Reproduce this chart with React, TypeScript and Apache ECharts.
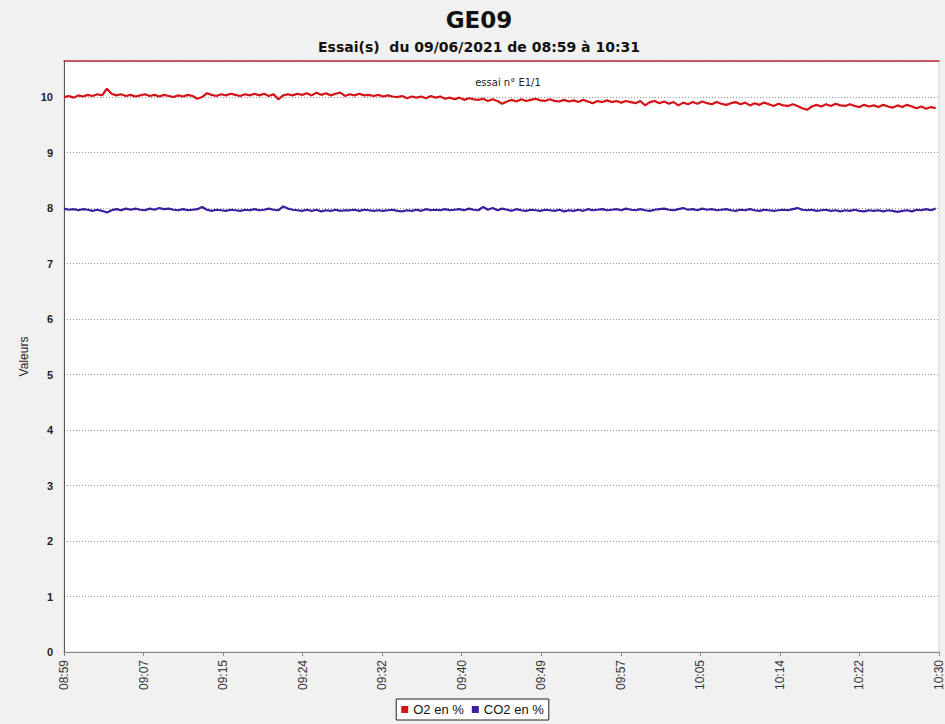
import React, { useEffect, useRef } from "react";
import * as echarts from "echarts";

const xTickLabels = ["08:59", "09:07", "09:15", "09:24", "09:32", "09:40", "09:49", "09:57", "10:05", "10:14", "10:22", "10:30"];
const tickStepMin = 8.35; // minutes between labelled ticks
const sampleStepMin = 0.5; // minutes between samples

const o2Values = [
  10.00, 10.02, 9.99, 10.03, 10.01, 10.04, 10.02, 10.05, 10.03, 10.15,
  10.06, 10.03, 10.05, 10.02, 10.04, 10.01, 10.03, 10.05, 10.02, 10.04,
  10.01, 10.04, 10.02, 10.00, 10.03, 10.01, 10.04, 10.02, 9.97, 10.00,
  10.07, 10.04, 10.02, 10.05, 10.03, 10.06, 10.04, 10.02, 10.05, 10.03,
  10.06, 10.03, 10.06, 10.02, 10.05, 9.96, 10.03, 10.05, 10.03, 10.06,
  10.04, 10.07, 10.03, 10.08, 10.04, 10.07, 10.03, 10.06, 10.08, 10.02,
  10.05, 10.03, 10.06, 10.03, 10.04, 10.02, 10.04, 10.01, 10.03, 10.01,
  10.00, 10.02, 9.98, 10.01, 9.99, 10.01, 9.98, 10.02, 9.99, 10.01,
  9.97, 9.99, 9.96, 9.99, 9.95, 9.98, 9.96, 9.95, 9.97, 9.93,
  9.96, 9.93, 9.88, 9.92, 9.95, 9.92, 9.96, 9.93, 9.95, 9.97,
  9.94, 9.93, 9.96, 9.93, 9.92, 9.95, 9.92, 9.94, 9.91, 9.95,
  9.92, 9.89, 9.93, 9.91, 9.94, 9.91, 9.93, 9.90, 9.93, 9.91,
  9.89, 9.93, 9.85, 9.91, 9.93, 9.89, 9.92, 9.88, 9.91, 9.85,
  9.90, 9.87, 9.91, 9.88, 9.92, 9.89, 9.87, 9.91, 9.88, 9.86,
  9.89, 9.91, 9.87, 9.90, 9.85, 9.89, 9.86, 9.90, 9.87, 9.84,
  9.88, 9.85, 9.84, 9.87, 9.84, 9.80, 9.77, 9.83, 9.86, 9.83,
  9.87, 9.84, 9.88, 9.85, 9.84, 9.87, 9.84, 9.82, 9.86, 9.83,
  9.85, 9.82, 9.86, 9.83, 9.81, 9.85, 9.82, 9.86, 9.83, 9.80,
  9.83, 9.79, 9.82, 9.80,
];

const co2Values = [
  7.99, 7.97, 7.98, 7.96, 7.98, 7.97, 7.95, 7.97, 7.95, 7.92,
  7.96, 7.98, 7.96, 7.99, 7.97, 7.99, 7.97, 7.96, 7.99, 7.97,
  8.00, 7.98, 7.99, 7.97, 7.96, 7.98, 7.96, 7.97, 7.98, 8.02,
  7.97, 7.95, 7.97, 7.96, 7.95, 7.97, 7.96, 7.95, 7.97, 7.96,
  7.98, 7.96, 7.97, 7.99, 7.97, 7.96, 8.03, 7.99, 7.97, 7.96,
  7.95, 7.97, 7.95, 7.97, 7.94, 7.96, 7.95, 7.97, 7.95, 7.96,
  7.96, 7.97, 7.95, 7.97, 7.96, 7.95, 7.96, 7.95, 7.96, 7.97,
  7.95, 7.94, 7.96, 7.95, 7.97, 7.95, 7.98, 7.96, 7.97, 7.96,
  7.98, 7.96, 7.97, 7.98, 7.96, 7.99, 7.97, 7.96, 8.02, 7.97,
  8.00, 7.96, 7.99, 7.97, 7.95, 7.98, 7.96, 7.95, 7.97, 7.96,
  7.95, 7.97, 7.96, 7.95, 7.97, 7.94, 7.96, 7.95, 7.97, 7.95,
  7.98, 7.96, 7.97, 7.98, 7.96, 7.97, 7.98, 7.96, 7.99, 7.97,
  7.96, 7.98, 7.96, 7.95, 7.97, 7.98, 7.99, 7.97, 7.96, 7.98,
  8.00, 7.97, 7.98, 7.96, 7.99, 7.97, 7.98, 7.96, 7.97, 7.98,
  7.96, 7.95, 7.97, 7.96, 7.98, 7.96, 7.95, 7.97, 7.96, 7.95,
  7.96, 7.97, 7.96, 7.98, 8.00, 7.97, 7.96, 7.97, 7.95, 7.96,
  7.97, 7.95, 7.96, 7.94, 7.96, 7.95, 7.97, 7.95, 7.94, 7.96,
  7.95, 7.96, 7.94, 7.96, 7.95, 7.93, 7.95, 7.96, 7.94, 7.97,
  7.96, 7.98, 7.96, 7.99,
];

const seriesNames = ["O2 en %", "CO2 en %"];
const seriesColors = ["#d41418", "#3b1fa0"];

export default function App() {
  const ref = useRef<HTMLDivElement>(null);
  useEffect(() => {
    if (!ref.current) return;
    const chart = echarts.init(ref.current, null, { renderer: "svg" });
    const toPairs = (arr: number[]) => arr.map((v, i) => [i * sampleStepMin, v]);
    const font = "'Liberation Sans', Arial, sans-serif";
    const wide = "'DejaVu Sans', Arial, sans-serif";
    chart.setOption({
      animation: false,
      backgroundColor: "#f1f1f1",
      textStyle: { fontFamily: font },
      title: [
        {
          text: "GE09",
          left: 474,
          textAlign: "center",
          top: 3,
          textStyle: { fontSize: 23, fontWeight: "bold", color: "#111", fontFamily: wide },
        },
        {
          text: "Essai(s)  du 09/06/2021 de 08:59 à 10:31",
          left: 474,
          textAlign: "center",
          top: 35,
          textStyle: { fontSize: 14, fontWeight: "bold", color: "#111", fontFamily: wide },
        },
        {
          text: "essai n° E1/1",
          left: 503,
          textAlign: "center",
          top: 72,
          textStyle: { fontSize: 10, fontWeight: "normal", color: "#222", fontFamily: wide },
        },
      ],
      legend: {
        bottom: 4,
        left: "center",
        data: seriesNames,
        icon: "rect",
        itemWidth: 7,
        itemHeight: 7,
        itemGap: 8,
        borderColor: "#222",
        borderWidth: 1,
        padding: [4, 5],
        backgroundColor: "#ffffff",
        borderRadius: 0,
        textStyle: { fontSize: 13, color: "#111", fontFamily: font },
      },
      grid: {
        left: 64,
        right: 4,
        top: 61,
        bottom: 72,
        show: true,
        backgroundColor: "#ffffff",
        borderColor: "#cfcfcf",
        borderWidth: 1,
      },
      xAxis: [
        {
          type: "value",
          min: 0,
          max: tickStepMin * (xTickLabels.length - 1),
          interval: tickStepMin,
          axisLine: { show: true, lineStyle: { color: "#888", width: 1 } },
          axisTick: { show: true, length: 4, lineStyle: { color: "#888" } },
          splitLine: { show: false },
          axisLabel: {
            rotate: 90,
            fontSize: 12,
            color: "#333",
            margin: 8,
            showMinLabel: true,
            showMaxLabel: true,
            formatter: (v: number) => xTickLabels[Math.round(v / tickStepMin)] ?? "",
          },
        },
        {
          type: "value",
          position: "top",
          min: 0,
          max: tickStepMin * (xTickLabels.length - 1),
          axisLine: { show: true, lineStyle: { color: "#c0303c", width: 1.5 } },
          axisTick: { show: false },
          axisLabel: { show: false },
          splitLine: { show: false },
        },
      ],
      yAxis: {
        type: "value",
        min: 0,
        max: 10.65,
        interval: 1,
        name: "Valeurs",
        nameLocation: "middle",
        nameGap: 32,
        nameTextStyle: { fontSize: 12, color: "#222", fontFamily: font },
        axisLine: { show: true, lineStyle: { color: "#555", width: 1 } },
        axisTick: { show: false },
        splitLine: { show: true, lineStyle: { color: "#9a9a9a", type: [1, 2], width: 1 } },
        axisLabel: {
          fontSize: 11,
          fontWeight: "bold",
          color: "#222",
          margin: 11,
          showMaxLabel: false,
          formatter: (v: number) => (Number.isInteger(v) ? String(v) : ""),
        },
      },
      series: [
        {
          name: seriesNames[0],
          type: "line",
          data: toPairs(o2Values),
          showSymbol: false,
          symbol: "none",
          color: seriesColors[0],
          lineStyle: { color: seriesColors[0], width: 2.2 },
        },
        {
          name: seriesNames[1],
          type: "line",
          data: toPairs(co2Values),
          showSymbol: false,
          symbol: "none",
          color: seriesColors[1],
          lineStyle: { color: seriesColors[1], width: 2.2 },
        },
      ],
    });
    return () => chart.dispose();
  }, []);
  return <div ref={ref} style={{ position: "fixed", left: 0, top: 0, width: 945, height: 724 }} />;
}
